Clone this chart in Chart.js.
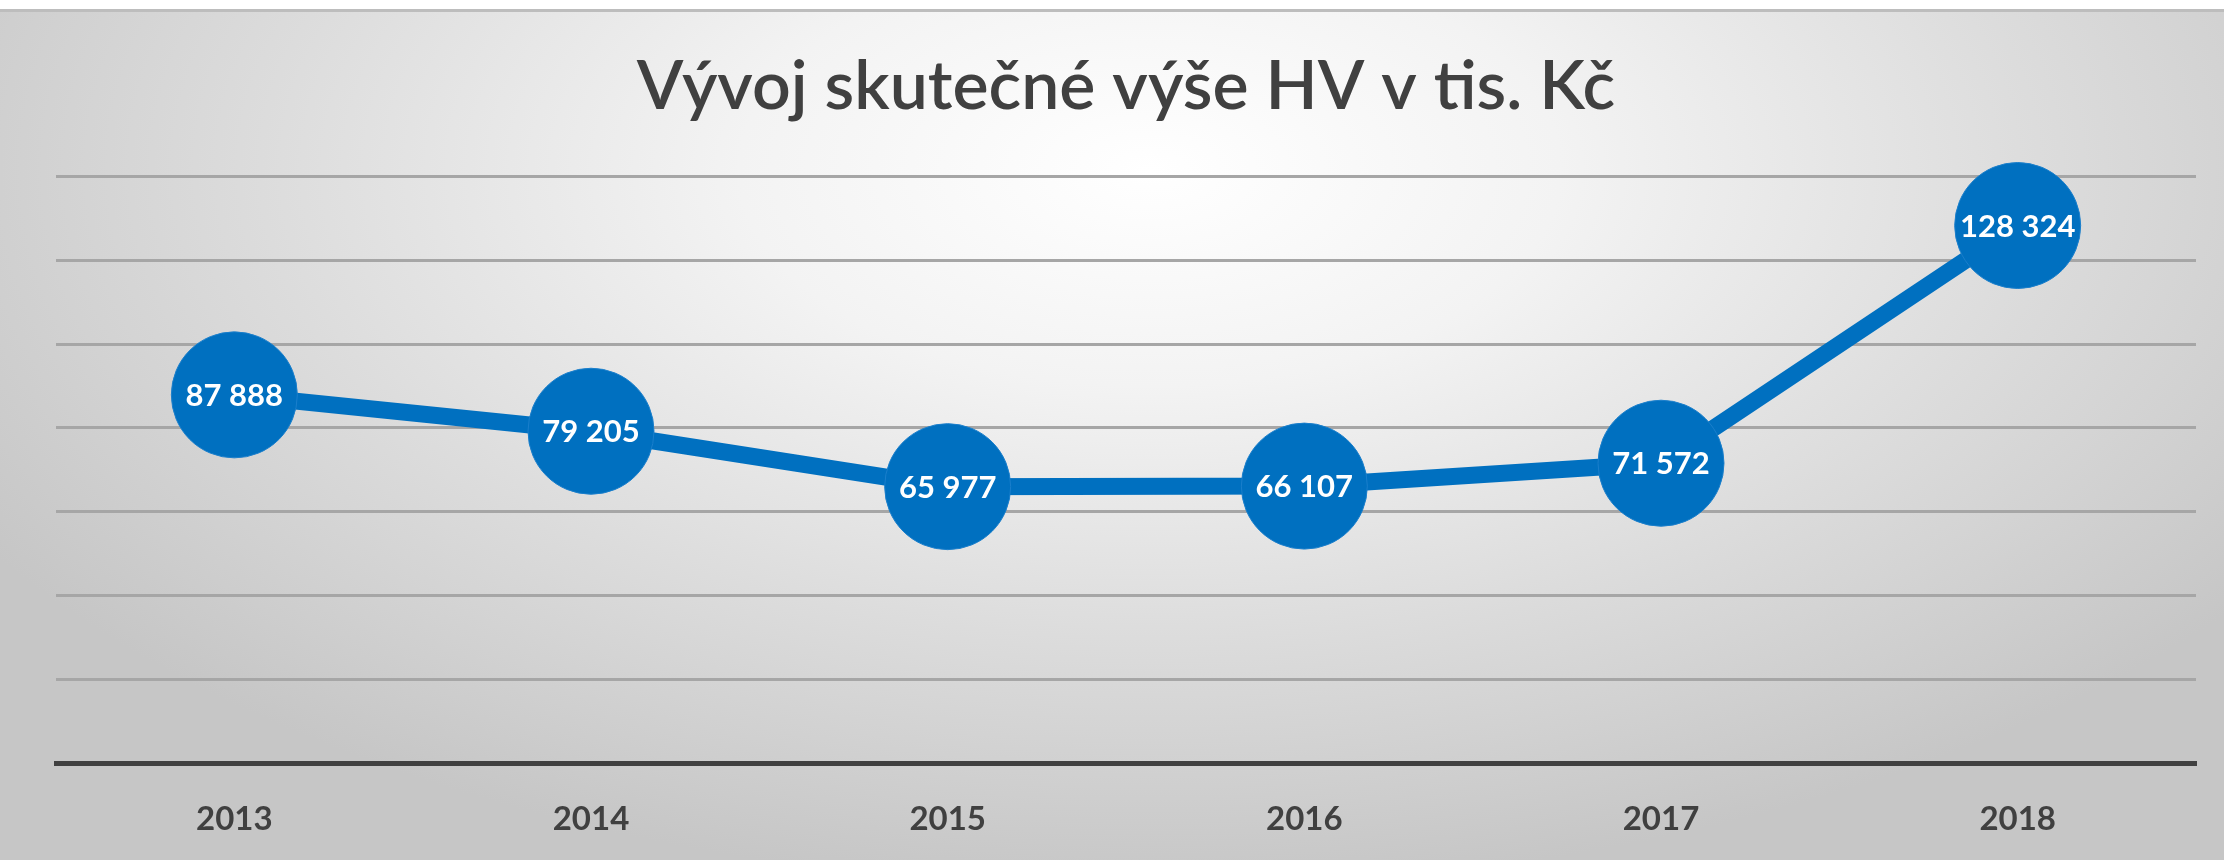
<!DOCTYPE html>
<html>
<head>
<meta charset="utf-8">
<script src="https://cdn.jsdelivr.net/npm/chart.js@4/dist/chart.umd.min.js"></script>
<style>
  html, body { margin: 0; padding: 0; background: #ffffff; overflow: hidden; }
  #wrap { width: 2224px; height: 860px; position: relative; }
  canvas { display: block; }
</style>
</head>
<body>
<div id="wrap"><canvas id="c" width="2224" height="860"></canvas></div>
<script>
const titleText = 'Vývoj skutečné výše HV v tis. Kč';
const categories = ['2013', '2014', '2015', '2016', '2017', '2018'];
const values = [87888, 79205, 65977, 66107, 71572, 128324];
const yMin = 0;
const yMax = 140000;
const yStep = 20000;

function fmt(v) {
  return String(v).replace(/\B(?=(\d{3})+(?!\d))/g, ' ');
}

const bgPlugin = {
  id: 'bg',
  beforeDraw(chart) {
    const ctx = chart.ctx;
    const W = chart.width, H = chart.height;
    ctx.save();
    ctx.fillStyle = '#ffffff';
    ctx.fillRect(0, 0, W, H);
    ctx.save();
    ctx.translate(1150, 170);
    ctx.scale(1.9, 1);
    const g = ctx.createRadialGradient(0, 0, 0, 0, 0, 720);
    g.addColorStop(0, '#ffffff');
    g.addColorStop(0.3, '#f3f3f3');
    g.addColorStop(0.65, '#dcdcdc');
    g.addColorStop(1, '#c6c6c6');
    ctx.fillStyle = g;
    ctx.fillRect(-1150 / 1.9, -160, W / 1.9 + 10, H + 10);
    ctx.restore();
    ctx.fillStyle = '#bdbdbd';
    ctx.fillRect(0, 9, W, 3);
    ctx.restore();
  }
};

const labelPlugin = {
  id: 'pointLabels',
  afterDatasetsDraw(chart) {
    const ctx = chart.ctx;
    const meta = chart.getDatasetMeta(0);
    ctx.save();
    ctx.fillStyle = '#ffffff';
    ctx.font = 'bold 31px Lato, "Open Sans", sans-serif';
    ctx.textAlign = 'center';
    ctx.textBaseline = 'middle';
    meta.data.forEach((pt, i) => {
      ctx.fillText(fmt(chart.data.datasets[0].data[i]), pt.x, pt.y + 1);
    });
    ctx.restore();
  }
};

new Chart(document.getElementById('c'), {
  type: 'line',
  data: {
    labels: categories,
    datasets: [{
      data: values,
      borderColor: '#0070C0',
      borderWidth: 17,
      backgroundColor: '#0070C0',
      pointBackgroundColor: '#0070C0',
      pointBorderColor: '#1a7fcc',
      pointBorderWidth: 1,
      pointRadius: 63,
      pointHoverRadius: 63,
      tension: 0,
      fill: false,
      clip: false
    }]
  },
  options: {
    responsive: false,
    animation: false,
    devicePixelRatio: 1,
    layout: { autoPadding: false, padding: { left: 56, right: 28, top: 0, bottom: 0 } },
    plugins: {
      legend: { display: false },
      tooltip: { enabled: false },
      title: {
        display: true,
        text: titleText,
        color: '#404040',
        font: { family: 'Lato, "Open Sans", sans-serif', size: 68, weight: '600', lineHeight: 1.2 },
        padding: { top: 46, bottom: 49 }
      }
    },
    scales: {
      x: {
        offset: true,
        grid: { display: true, drawOnChartArea: false, drawTicks: false },
        border: { display: true, color: '#404040', width: 5 },
        ticks: {
          color: '#404040',
          padding: 37,
          font: { family: 'Lato, "Open Sans", sans-serif', size: 33, weight: 'bold' }
        },
        afterFit(s) { s.paddingLeft = 0; s.paddingRight = 0; s.height = 97; }
      },
      y: {
        min: yMin,
        max: yMax,
        ticks: { display: false, stepSize: yStep },
        border: { display: false },
        grid: { color: '#a6a6a6', lineWidth: 3, drawTicks: false },
        afterFit(s) { s.width = 0; s.paddingTop = 0; s.paddingBottom = 0; }
      }
    }
  },
  plugins: [bgPlugin, labelPlugin]
});
</script>
</body>
</html>
